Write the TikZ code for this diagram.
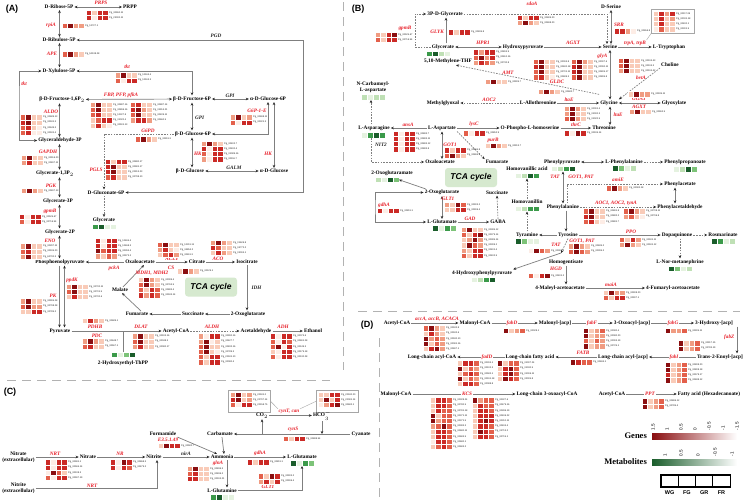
\documentclass[tikz,border=0pt]{standalone}
\usepackage{fontspec}
\setmainfont{Liberation Serif}
\setsansfont{Liberation Sans}
\usetikzlibrary{arrows.meta,calc}
\definecolor{r0}{HTML}{FDEDE6}
\definecolor{r1}{HTML}{F9CBB8}
\definecolor{r2}{HTML}{F09C82}
\definecolor{r3}{HTML}{E3604B}
\definecolor{r4}{HTML}{CB2A26}
\definecolor{r5}{HTML}{8A0E10}
\definecolor{g0}{HTML}{E5F2E0}
\definecolor{g1}{HTML}{BFE0B5}
\definecolor{g2}{HTML}{7DC378}
\definecolor{g3}{HTML}{3B9A4A}
\definecolor{g4}{HTML}{1A5D2B}
\definecolor{ln}{HTML}{7F7F7F}
\definecolor{gred}{HTML}{E8202A}
\definecolor{tcag}{HTML}{D6E9CF}
\newcounter{hmc}
\newcommand\HM[3]{%
  \foreach \hA/\hB/\hC/\hD/\hL [count=\ii from 0] in {#3}{%
    \stepcounter{hmc}%
    \filldraw[fill=\hA,draw=white,line width=0.3pt] ({#1},{#2+\ii*5.2}) rectangle ++(5.5,5.2);
    \filldraw[fill=\hB,draw=white,line width=0.3pt] ({#1+5.5},{#2+\ii*5.2}) rectangle ++(5.5,5.2);
    \filldraw[fill=\hC,draw=white,line width=0.3pt] ({#1+11},{#2+\ii*5.2}) rectangle ++(5.5,5.2);
    \filldraw[fill=\hD,draw=white,line width=0.3pt] ({#1+16.5},{#2+\ii*5.2}) rectangle ++(5.5,5.2);
    \node[gid] (hm\thehmc) at ({#1+22.8},{#2+\ii*5.2+2.6}) {\hL};
  }}
\newcommand\MH[4]{%
  \node[inner sep=0,outer sep=0,minimum width=24pt,minimum height=5.5pt,anchor=north west] (#1) at (#2,#3) {};
  \foreach \hc [count=\jj from 0] in {#4}{\filldraw[fill=\hc,draw=white,line width=0.3pt] ({#2+\jj*6},{#3}) rectangle ++(6,5.5);}
}
\begin{document}
\begin{tikzpicture}[x=1pt,y=-1pt,
  >={Stealth[length=3pt,width=2.6pt,color=black!85]},
  met/.style={font=\fontsize{5.3}{5.8}\selectfont\bfseries, inner sep=1pt},
  metd/.style={met},
  gene/.style={font=\fontsize{5.2}{5.6}\selectfont\bfseries\itshape, text=gred, inner sep=0.5pt},
  geneb/.style={gene, fill=white, inner sep=0.8pt},
  genek/.style={gene, text=black!85},
  gid/.style={font=\sffamily\fontsize{2.4}{2.6}\selectfont, inner sep=0.2pt, anchor=west, text=black!85},
  plab/.style={font=\sffamily\bfseries\fontsize{9}{10}\selectfont, inner sep=0},
  tca/.style={fill=tcag, rounded corners=3pt, minimum width=52pt, minimum height=19pt, font=\sffamily\bfseries\itshape\fontsize{8.5}{9}\selectfont, inner sep=0},
  ar/.style={draw=ln, line width=0.7pt, ->},
  bar/.style={draw=ln, line width=0.7pt, <->},
  dar/.style={ar, dash pattern=on 1.6pt off 1.2pt},
  plain/.style={draw=ln, line width=0.7pt},
  thinln/.style={draw=gray!70, line width=0.4pt},
  hbox/.style={draw=gray!70,line width=0.6pt,inner sep=0,anchor=north west},
  divider/.style={draw=gray!60, line width=0.8pt, dash pattern=on 9pt off 6pt},
  tick/.style={font=\sffamily\fontsize{4.6}{5}\selectfont, inner sep=0.5pt}
]
\useasboundingbox (0,0) rectangle (746,501);
\fill[white] (0,0) rectangle (746,501);

% ---------------- dividers
\draw[divider] (7,380) -- (330,380);
\draw[divider] (343,2) -- (343,370);
\draw[divider] (358,311) -- (740,311);
\draw[divider] (379,338) -- (379,501);

% ================= PANEL A
\node[plab] (labA) at (12,9) {(A)};
\coordinate (xL) at (59.5,0);
\coordinate (xL2) at (64.5,0);
\coordinate (pgdc) at (303,40);
\coordinate (tkc) at (19,100);
\node[met] (rib) at (59,7) {D-Ribose-5P};
\node[met] (prpp) at (130,7) {PRPP};
\node[met] (ribu) at (59,40) {D-Ribulose-5P};
\node[met] (xylu) at (59,71) {D-Xylulose-5P};
\node[met] (f16) at (62,99.5) {β-D-Fructose-1,6P$_2$};
\node[met] (gap) at (60,140.5) {Glyceraldehyde-3P};
\node[met] (g13) at (55,173.5) {Glycerate-1,3P$_2$};
\node[met] (g3p) at (58,201) {Glycerate-3P};
\node[met] (g2p) at (60,232) {Glycerate-2P};
\node[met] (pep) at (60,262) {Phosphoenolpyruvate};
\node[met] (pyr) at (60,331) {Pyruvate};
\node[met] (f6p) at (192,99) {β-D-Fructose-6P};
\node[met] (ag6p) at (268,99) {α-D-Glucose-6P};
\node[met] (bg6p) at (193,134) {β-D-Glucose-6P};
\node[met] (bglc) at (190,171) {β-D-Glucose};
\node[met] (aglc) at (274,171) {α-D-Glucose};
\node[met] (glcn) at (106,192.5) {D-Gluconate-6P};
\node[met] (glycA) at (104,220.5) {Glycerate};
\node[met] (oaa) at (140,262) {Oxaloacetate};
\node[met] (cit) at (197,262) {Citrate};
\node[met] (iso) at (247,262) {Isocitrate};
\node[met] (mal) at (120,290) {Malate};
\node[met] (fum) at (137,314) {Fumarate};
\node[met] (succ) at (193,314) {Succinate};
\node[met] (oxg) at (248,314) {2-Oxoglutarate};
\node[met] (acoa) at (176,331) {Acetyl-CoA};
\node[met] (acald) at (256,331) {Acetaldehyde};
\node[met] (eth) at (313,331) {Ethanol};
\node[met] (htpp) at (123,363) {2-Hydroxyethyl-ThPP};
\node[tca] (tcaA) at (211,287) {TCA cycle};
\MH{mglycA}{92}{224}{g3,g4,g0,g0}
\MH{mhtpp}{111}{352}{g3,g0,g2,g4}

\draw[bar] (rib) -- (prpp);
\draw[bar] (rib.south -| xL) -- (ribu.north -| xL);
\draw[bar] (ribu.south -| xL) -- (xylu.north -| xL);
\draw[bar] (glcn.east) -| (pgdc) -- (ribu.east);
\draw[bar] (xylu.east) -| (f6p.north);
\draw[bar] (xylu.west) -| (tkc) |- (gap.west);
\draw[bar] (f16) -- (f6p);
\draw[bar] (f16.south -| xL) -- (gap.north -| xL);
\draw[bar] (gap.south -| xL) -- (g13.north -| xL);
\draw[bar] (g13.south -| xL) -- (g3p.north -| xL);
\draw[bar] (g3p.south -| xL) -- (g2p.north -| xL);
\draw[bar] (g2p.south -| xL) -- (pep.north -| xL);
\draw[ar] (pep.south -| xL) -- (pyr.north -| xL);
\draw[bar] (pep.south -| xL2) -- (pyr.north -| xL2);
\draw[bar] (f6p) -- (ag6p);
\draw[bar] (f6p) -- (f6p |- bg6p.north);
\draw[bar] (ag6p.south) |- (bg6p.east);
\draw[bar] (aglc.north |- ag6p.south) -- (aglc.north);
\draw[bar] (bg6p.south -| f6p) -- (f6p |- bglc.north);
\draw[bar] (bglc) -- (aglc);
\draw[dar] (bg6p.west) -| ([xshift=-2pt]glcn.north);
\draw[dar] ([xshift=-2pt]glcn.south) -- (glycA.north);
\draw[ar] (oaa) -- (pep);
\draw[ar] (oaa) -- (cit);
\draw[ar] (cit) -- (iso);
\draw[ar] (iso.south) -- (iso.south |- oxg.north);
\draw[ar] (oxg) -- (succ);
\draw[ar] (succ) -- (fum);
\draw[ar] ([xshift=4pt]fum.north) -- ([xshift=2pt]mal.south);
\draw[ar] ([xshift=3pt]mal.north) -- ([xshift=4pt]oaa.south);
\draw[ar] (pyr) -- (acoa);
\draw[plain] (mhtpp.north) -- (mhtpp.north |- pyr.east);
\draw[dar] (acoa) -- (acald);
\draw[ar] (acald) -- (eth);

\node[gene] (gPRPS) at (101,3.3) {PRPS};
\HM{86}{10}{r4/r1/r4/r4/Pg\_30960.11, r4/r0/r4/r4/Pg\_23000.11}
\node[gene] (grpiA) at (51,25) {rpiA};
\HM{62}{23}{r3/r5/r2/r2/Pg\_10727.1}
\node[genek] (gPGD) at (216,36) {PGD};
\node[gene] (gAPE) at (52,54) {APE};
\HM{62}{51.5}{r3/r5/r2/r1/Pg\_50138.28}
\node[gene] (gtkt1) at (127,67) {tkt};
\HM{115}{72.5}{r2/r5/r1/r1/Pg\_10163.4, r3/r0/r4/r4/Pg\_10163.3}
\node[gene] (gtkt2) at (24,84) {tkt};
\node[gene] (gFBP) at (121,95) {FBP, PFP, pfkA};
\HM{90}{102}{r2/r5/r1/r1/Pg\_30887.16, r3/r5/r1/r1/Pg\_30896.16, r3/r4/r1/r1/Pg\_10327.8, r1/r3/r4/r4/Pg\_31020.4, r1/r4/r1/r0/Pg\_30501.13}
\HM{130}{102}{r3/r4/r1/r1/Pg\_30887.14, r4/r5/r2/r1/Pg\_31914.21, r3/r5/r1/r1/Pg\_30409.11, r2/r4/r4/r2/Pg\_30660.5}
\node[gene] (gALDO) at (51,111.5) {ALDO};
\HM{20}{114.5}{r3/r5/r1/r1/Pg\_30689.13, r4/r5/r1/r1/Pg\_30181.3, r3/r4/r1/r0/Pg\_30649.3, r3/r4/r0/r0/Pg\_30181.4}
\node[genek] (gGPI1) at (230,95.5) {GPI};
\node[genek,anchor=west] (gGPI2) at (194.5,118) {GPI};
\node[gene] (gG6P) at (257,111) {G6P-1-E};
\HM{230}{114.5}{r2/r5/r1/r2/Pg\_30698.11, r3/r0/r4/r4/Pg\_30321.3}
\node[gene] (gG6PD) at (148,130.3) {G6PD};
\HM{135}{136.5}{r3/r5/r2/r1/Pg\_30911.3}
\node[gene,anchor=west] (gHK1) at (193.5,154) {HK};
\HM{201}{141}{r2/r5/r2/r1/Pg\_30402.7, r4/r0/r4/r4/Pg\_30400.4, r3/r0/r4/r4/Pg\_31089.16, r2/r0/r4/r4/Pg\_30116.7}
\node[gene,anchor=east] (gHK2) at (272.5,154) {HK};
\node[genek] (gGALM) at (234,167.5) {GALM};
\node[gene] (gPGLS) at (96,170) {PGLS};
\HM{105}{159}{r4/r1/r4/r4/Pg\_30880.17, r4/r5/r1/r1/Pg\_30981.17, r4/r5/r1/r1/Pg\_20913.23, r3/r4/r1/r1/Pg\_30798.10}
\node[gene] (gGAPDH) at (48,152) {GAPDH};
\HM{21}{155}{r2/r5/r1/r1/Pg\_30516.20, r2/r4/r1/r1/Pg\_30497.11}
\node[gene] (gPGK) at (51,186) {PGK};
\HM{21}{188}{r2/r5/r2/r1/Pg\_30497.13}
\node[gene] (ggpmB) at (50,211.5) {gpmB};
\HM{19}{214}{r4/r0/r4/r4/Pg\_30525.67, r3/r0/r4/r4/Pg\_30716.54}
\node[gene] (gENO) at (50,241) {ENO};
\HM{20}{243.5}{r2/r5/r1/r1/Pg\_30297.11, r3/r4/r1/r1/Pg\_30195.20, r2/r5/r1/r1/Pg\_60700.3}
\node[gene] (gpckA) at (114,268.5) {pckA};
\HM{95}{238}{r4/r0/r4/r4/Pg\_10465.4, r4/r0/r4/r4/Pg\_10468.3, r5/r3/r4/r4/Pg\_30394.4, r2/r1/r3/r2/Pg\_30973.2}
\node[gene] (gACLY) at (172,258.7) {ACLY};
\node[gene] (gCS) at (171,267.3) {CS};
\HM{157}{242}{r3/r5/r1/r1/Pg\_10311.11, r2/r4/r1/r0/Pg\_34854.2, r1/r3/r4/r2/Pg\_30611.3}
\HM{177}{268.5}{r1/r5/r2/r1/Pg\_30129.1}
\node[gene] (gACO) at (218,258.7) {ACO};
\HM{210}{240}{r2/r5/r2/r1/Pg\_01626.8, r4/r3/r1/r1/Pg\_04772.2, r1/r4/r2/r1/Pg\_03004.1}
\node[genek,anchor=west] (gIDH) at (251,288) {IDH};
\node[gene] (gMDH) at (152,273) {MDH1, MDH2};
\HM{138}{277}{r1/r5/r2/r1/Pg\_30099.4, r3/r5/r2/r1/Pg\_30763.5, r3/r1/r4/r3/Pg\_30883.4, r4/r2/r4/r3/Pg\_30183.14}
\node[gene] (gPK) at (53,296) {PK};
\HM{20}{298.5}{r2/r5/r1/r1/Pg\_30995.28, r3/r5/r2/r2/Pg\_30798.28, r1/r1/r4/r4/Pg\_30785.2}
\node[gene] (gppdK) at (72,280) {ppdK};
\HM{66}{284}{r2/r5/r1/r1/Pg\_30700.11, r3/r5/r1/r1/Pg\_30701.5, r1/r4/r1/r1/Pg\_30700.6}
\node[gene] (gPDHB) at (95,326.5) {PDHB};
\node[gene] (gPDC) at (97,335.8) {PDC};
\node[gene] (gDLAT) at (141,326.5) {DLAT};
\HM{82}{318}{r1/r4/r2/r1/Pg\_30689.1}
\HM{82}{338.5}{r2/r5/r2/r1/Pg\_30648.7, r3/r4/r1/r1/Pg\_30567.1}
\HM{132}{333.5}{r2/r5/r1/r1/Pg\_30193.16, r3/r5/r1/r1/Pg\_30048.3, r2/r4/r1/r1/Pg\_30080.17}
\node[gene] (gALDH) at (212,326.5) {ALDH};
\HM{198}{333.5}{r2/r0/r4/r4/Pg\_30990.16, r2/r5/r0/r1/Pg\_30427.7, r3/r5/r1/r1/Pg\_30832.16, r3/r5/r1/r0/Pg\_30789.3, r3/r1/r4/r4/Pg\_20181.10, r3/r1/r4/r4/Pg\_30080.4}
\node[gene] (gADH) at (283,326.5) {ADH};
\HM{270}{333.5}{r4/r0/r4/r4/Pg\_30074.6, r3/r0/r4/r3/Pg\_30691.28, r3/r5/r0/r4/Pg\_30149.3, r1/r0/r4/r4/Pg\_30179.18, r3/r0/r4/r4/Pg\_30130.28}

% ================= PANEL C
\node[plab] (labC) at (10,392) {(C)};
\node[hbox,minimum width=42pt,minimum height=22pt] (bxco2) at (228,390) {};
\HM{230}{392}{r2/r5/r1/r2/Pg\_20181.0, r4/r5/r1/r2/Pg\_20797.14, r3/r0/r4/r4/Pg\_20158.75}
\node[hbox,minimum width=42pt,minimum height=22pt] (bxhco3) at (316,390) {};
\HM{318}{392}{r1/r1/r4/r4/Pg\_20180.20, r1/r5/r1/r4/Pg\_20081.14, r0/r2/r4/r5/Pg\_30682.1}
\node[met] (co2) at (262,415.5) {CO$_2$};
\node[met] (hco3) at (322,415.5) {HCO$_3^-$};
\node[met] (carb) at (220,434) {Carbamate};
\node[met] (cyan) at (361,434) {Cyanate};
\node[met] (form) at (163,434) {Formamide};
\node[met] (amm) at (222,457) {Ammonia};
\node[met,align=center] (nex) at (18.5,457) {Nitrate\\(extracellular)};
\node[met] (nit) at (88,457) {Nitrate};
\node[met] (nitr) at (154,457) {Nitrite};
\node[met,align=center] (nitex) at (18.5,488) {Nitrite\\(extracellular)};
\node[met] (gluC) at (302,457) {L-Glutamate};
\node[met] (gln) at (222,490.5) {L-Glutamine};
\MH{mgluC}{290}{460.5}{g4,g0,g3,g2}
\MH{mgln}{210}{494.5}{g3,g4,g0,g0}
\draw[ar] (co2) -- (hco3);
\draw[ar] (cyan) -- (carb);
\draw[ar] (co2.south |- carb.east) -- (co2.south);
\draw[ar] (hco3.south) -- (hco3.south |- carb.east);
\draw[ar] (form.south east) -- ([xshift=-5pt]amm.north);
\draw[ar] ([xshift=2pt]carb.south) -- ([xshift=2pt]amm.north);
\draw[ar] (nex) -- (nit);
\draw[ar] (nit) -- (nitr);
\draw[ar] (nitr) -- (amm);
\draw[ar] (nitex.east) -| ([xshift=3pt]nitr.south);
\draw[ar] (amm) -- (gluC);
\draw[ar] ([xshift=5pt]amm.south) -- ([xshift=5pt]amm.south |- gln.north);
\draw[ar] (gln.east) -| (mgluC.south);
\node[gene] (gcyn) at (289,411.8) {cynT, can};
\draw[thinln] (bxco2.east) -- (gcyn.north west);
\draw[thinln] (bxhco3.west) -- (gcyn.north east);
\node[gene] (gcynS) at (293,429.5) {cynS};
\HM{283}{436}{r3/r1/r4/r4/Pg\_30888.54}
\node[gene] (gE35) at (168,440) {E3.5.1.49};
\HM{158}{443}{r1/r5/r4/r4/Pg\_30582.7}
\node[gene] (gNRT1) at (55,453.5) {NRT};
\HM{45}{459.5}{r4/r0/r4/r4/Pg\_30981.1, r4/r0/r4/r4/Pg\_30565.14, r0/r5/r3/r1/Pg\_30108.3, r3/r0/r4/r4/Pg\_30597.19}
\node[gene] (gNR) at (120,453.5) {NR};
\HM{110}{459.5}{r4/r0/r5/r4/Pg\_30868.3, r4/r0/r4/r3/Pg\_30479.2}
\node[genek] (gnirA) at (186,453.5) {nirA};
\node[gene] (gNRT2) at (92,485.3) {NRT};
\node[gene] (ggdhA) at (260,453.5) {gdhA};
\HM{247}{459.5}{r4/r1/r4/r4/Pg\_30811.1}
\node[gene] (gglnA) at (218,463) {glnA};
\HM{187}{466}{r2/r5/r1/r1/Pg\_30836.3, r3/r4/r1/r1/Pg\_30836.2, r4/r4/r1/r1/Pg\_30193.21}
\node[gene] (gGLT1) at (268,487) {GLT1};
\HM{258}{473.5}{r3/r1/r5/r4/Pg\_30903.2, r2/r4/r1/r4/Pg\_30906.4}

% ================= PANEL B
\node[plab] (labB) at (358,9) {(B)};
\node[met] (pg3) at (445,14) {3P-D-Glycerate};
\node[met] (dser) at (611,7) {D-Serine};
\node[met] (ser) at (610,47) {Serine};
\node[met] (trp) at (669,47) {L-Tryptophan};
\node[met] (glycB) at (443,47) {Glycerate};
\node[met] (hpyr) at (523,47) {Hydroxypyruvate};
\node[met] (mthf) at (448,61.5) {5,10-Methylene-THF};
\node[met] (chol) at (670,65) {Choline};
\node[met,align=center] (ncarb) at (373,87) {N-Carbamoyl-\\L-aspartate};
\node[met] (mgo) at (443,103) {Methylglyoxal};
\node[met] (allo) at (538,103) {L-Allothreonine};
\node[met] (glyB) at (609,103) {Glycine};
\node[met] (glyox) at (674,103) {Glyoxylate};
\node[met] (asn) at (374,128) {L-Asparagine};
\node[met] (asp) at (442,128) {L-Aspartate};
\node[met] (oph) at (530,128) {O-Phospho-L-homoserine};
\node[met] (thr) at (604,128) {Threonine};
\node[met] (oaaB) at (440,162) {Oxaloacetate};
\node[met] (fumB) at (497,162) {Fumarate};
\node[met] (phpyr) at (562,162) {Phenylpyruvate};
\node[met] (lphe) at (624,162) {L-Phenylalanine};
\node[met] (phprop) at (685,162) {Phenylpropanoate};
\node[met] (ogam) at (392,173) {2-Oxoglutaramate};
\node[met] (hva) at (527,169) {Homovanillic acid};
\node[met] (phacet) at (680,184) {Phenylacetate};
\node[met] (oxgB) at (442,192.5) {2-Oxoglutarate};
\node[met] (succB) at (497,192.5) {Succinate};
\node[met] (homv) at (527,202) {Homovanillin};
\node[met] (phe) at (563,207) {Phenylalanine};
\node[met] (phald) at (680,207) {Phenylacetaldehyde};
\node[met] (gluB) at (442,222) {L-Glutamate};
\node[met] (gaba) at (498,222) {GABA};
\node[met] (tyra) at (527,235) {Tyramine};
\node[met] (tyr) at (568,235) {Tyrosine};
\node[met] (dopa) at (677,235) {Dopaquinone};
\node[met] (rosm) at (723,235) {Rosmarinate};
\node[met] (homg) at (566,262) {Homogentisate};
\node[met] (lnor) at (680,262) {L-Nor-metanephrine};
\node[met] (hpp4) at (482,273) {4-Hydroxyphenylpyruvate};
\node[met] (mal4) at (560,288) {4-Maleyl-acetoacetate};
\node[met] (fum4) at (673,288) {4-Fumaryl-acetoacetate};
\node[tca] (tcaB) at (471,177.5) {TCA cycle};
\MH{mglycB}{426}{51}{g3,g4,g1,g0}
\MH{mncarb}{361}{94.5}{g1,g0,g1,g1}
\MH{masn}{361}{132.5}{g0,g3,g4,g3}
\MH{mogam}{375}{177}{g1,g0,g4,g2}
\MH{mgluB}{432}{225.5}{g4,g0,g3,g2}
\MH{mhva}{515}{173}{g0,g1,g4,g3}
\MH{mhomv}{515}{206}{g0,g1,g3,g3}
\MH{mtyra}{515}{238.5}{g4,g2,g0,g0}
\MH{mhpp4}{471}{277}{g0,g1,g3,g4}
\MH{mphpyr}{551}{166}{g0,g1,g3,g4}
\MH{mlphe}{612}{165.5}{g4,g2,g0,g1}
\MH{mphprop}{673}{166.5}{g0,g1,g4,g2}
\MH{mrosm}{711}{238.5}{g4,g3,g0,g1}
\MH{mlnor}{668}{266}{g4,g2,g0,g1}

\coordinate (bk1) at (415,14);
\coordinate (bk2) at (375,207);
\coordinate (bk3) at (371,162);
\coordinate (xP) at (563,0);
\coordinate (xT) at (566,0);
\coordinate (j1) at (561,253);
\draw[dar] (glycB.west) -| (bk1) -- (pg3.west);
\draw[dar] (pg3.east) -| ([xshift=-3pt]ser.north);
\draw[bar] (dser.south) -- (dser.south |- ser.north);
\draw[ar] ([xshift=3pt]glycB.north) -- ([xshift=1pt]pg3.south);
\draw[bar] (glycB) -- (hpyr);
\draw[ar] (hpyr) -- (ser);
\draw[ar] (ser) -- (trp);
\draw[bar] (ser.south) -- (ser.south |- glyB.north);
\draw[dar] (chol.south west) -- (glyB.north east);
\draw[dar] ([yshift=5pt]glyB.north west) -- ([xshift=8pt]mthf.south);
\draw[bar] (glyB) -- (glyox);
\draw[ar] (allo) -- (glyB);
\draw[dar] (allo) -- (mgo);
\draw[bar] (glyB.south -| ser.south) -- (thr.north -| ser.south);
\draw[ar] (oph) -- (thr);
\draw[ar] (asp) -- (oph);
\draw[dar] (asp.south east) -- (fumB.north west);
\draw[ar] (asp) -- (asn);
\draw[bar] (asp.south) -- (asp.south |- oaaB.north);
\draw[dar] (asn.north -| bk3) -- (mncarb.south -| bk3);
\draw[dar] (masn.south -| bk3) -- (bk3) -- (oaaB.west);
\draw[ar] ([xshift=2pt]oxgB.north west) -- (mogam.east);
\draw[bar] (oxgB.west) -| (bk2) |- (gluB.west);
\draw[bar] (oxgB.south) -- (gluB.north);
\draw[ar] (gluB) -- (gaba);
\draw[dar] (gaba.north) -- (succB.south);
\draw[dar] (homv.north) -- (mhva.south);
\draw[dar] (tyra.north) -- (mhomv.south);
\draw[ar] (tyr) -- (tyra);
\draw[dar] (tyr.south) -- (j1);
\draw[ar] (j1) -- (hpp4.north east);
\draw[ar] (homg.south) -- (homg.south |- mal4.north);
\draw[ar] (mal4) -- (fum4);
\draw[bar] (phpyr) -- (lphe);
\draw[dar] (lphe) -- (phprop);
\draw[bar] (mphpyr.south -| xP) -- (phe.north -| xP);
\draw[dar] ([xshift=4pt]phe.north) |- (phacet.west);
\draw[bar] ([xshift=-5pt]phacet.south) -- ([xshift=-5pt]phald.north);
\draw[dar] (phe) -- (phald);
\draw[ar] (phe.south -| xT) -- (tyr.north -| xT);
\draw[ar] (tyr) -- (dopa);
\draw[dar] (dopa) -- (rosm);
\draw[dar] (lnor.north |- dopa.south) -- (lnor.north);

\node[gene] (gsdaA) at (532,4) {sdaA};
\HM{517}{15}{r4/r1/r4/r4/Pg\_30699.20, r2/r5/r2/r1/Pg\_30698.20}
\node[gene,anchor=east] (gGLYK) at (444.5,32) {GLYK};
\HM{448}{29.5}{r4/r1/r4/r4/Pg\_30495.8}
\node[gene] (ggpmB2) at (405,28) {gpmB};
\HM{375}{32}{r2/r1/r4/r5/Pg\_30525.67, r3/r1/r4/r4/Pg\_30716.54}
\node[gene] (gHPR1) at (483,43) {HPR1};
\HM{473}{49.5}{r4/r2/r4/r4/Pg\_30804.9, r3/r5/r2/r4/Pg\_30610.16, r2/r4/r3/r2/Pg\_30730.8}
\node[gene] (gAGXT1) at (573,43) {AGXT};
\node[gene] (gSRR) at (619,24.5) {SRR};
\HM{614}{28.5}{r4/r4/r2/r0/Pg\_30656.8}
\node[hbox,minimum width=43pt,minimum height=24pt] (bxtrp) at (651,9) {};
\HM{653}{11}{r1/r4/r2/r4/Pg\_30117.26, r1/r4/r1/r2/Pg\_30031.18, r1/r4/r1/r1/Pg\_30400.1, r0/r3/r1/r1/Pg\_30301.5}
\node[gene] (gtrp) at (635,43) {trpA, trpB};
\draw[thinln] (bxtrp.south west) -- (gtrp.north east);
\node[gene,anchor=east] (gglyA) at (608,56) {glyA};
\HM{533}{59}{r3/r5/r1/r1/Pg\_30004.8, r4/r5/r1/r1/Pg\_30600.18, r3/r5/r1/r1/Pg\_30701.11, r3/r4/r1/r0/Pg\_30699.3}
\HM{571}{59}{r3/r5/r2/r1/Pg\_30007.6, r4/r5/r1/r1/Pg\_30090.11, r4/r5/r1/r1/Pg\_30805.17, r3/r5/r1/r1/Pg\_30895.8}
\HM{618}{58}{r3/r5/r1/r1/Pg\_30104.43, r3/r5/r1/r1/Pg\_30104.3, r2/r5/r1/r1/Pg\_30104.42}
\node[gene] (gbetA) at (641,78) {betA};
\node[gene] (gGLDC) at (557,81.5) {GLDC};
\HM{538}{89}{r2/r5/r2/r1/Pg\_30682.7}
\node[gene] (gAMT) at (508,73) {AMT};
\HM{485}{79}{r2/r5/r1/r1/Pg\_30905.7}
\node[gene] (gGGAT) at (639,99) {GGAT};
\HM{628}{91.5}{r1/r5/r2/r2/Pg\_30935.11}
\node[gene] (gAGXT2) at (639,106.8) {AGXT};
\HM{629}{109}{r2/r5/r1/r1/Pg\_30962.5}
\node[gene] (gltaE1) at (569,99.5) {ltaE};
\HM{564}{106}{r2/r5/r2/r1/Pg\_30091.4, r2/r5/r1/r1/Pg\_31000.3, r3/r5/r2/r1/Pg\_31020.5}
\node[gene,anchor=west] (gltaE2) at (613,115) {ltaE};
\node[gene] (gAOC2) at (489,99.5) {AOC2};
\node[gene] (gthrC) at (576,125) {thrC};
\HM{564}{130.5}{r4/r0/r5/r4/Pg\_30195.14}
\node[gene] (glysC) at (474,124.5) {lysC};
\HM{463}{130.5}{r3/r0/r4/r4/Pg\_30852.9}
\node[gene] (gpurB) at (493,140) {purB};
\HM{485}{143}{r1/r5/r2/r1/Pg\_30913.7}
\node[gene] (gansA) at (408,124.5) {ansA};
\HM{393}{131}{r4/r0/r4/r4/Pg\_30883.7, r4/r0/r4/r4/Pg\_30883.11, r4/r0/r4/r4/Pg\_30883.12, r4/r0/r4/r4/Pg\_30883.8}
\node[genek] (gNIT2) at (381,145) {NIT2};
\node[gene] (gGOT1a) at (450,144.5) {GOT1};
\HM{444}{147.5}{r4/r1/r4/r4/Pg\_30865.8, r3/r5/r2/r1/Pg\_30865.9}
\node[gene] (gGLT1B) at (448,198.5) {GLT1};
\HM{444}{202}{r2/r1/r5/r3/Pg\_30903.2, r1/r1/r4/r4/Pg\_30906.4}
\node[gene] (ggdhAB) at (384,205) {gdhA};
\HM{377}{208}{r4/r0/r4/r4/Pg\_30811.1}
\node[gene] (gGAD) at (470,218.5) {GAD};
\HM{461}{227}{r2/r5/r1/r1/Pg\_30385.12, r3/r1/r4/r5/Pg\_30379.14, r1/r2/r5/r2/Pg\_30385.14, r1/r5/r3/r2/Pg\_30399.2, r2/r1/r4/r4/Pg\_30401.4, r3/r1/r4/r4/Pg\_30402.5}
\node[gene] (gTAT1) at (555,177) {TAT};
\node[gene] (gGOTPAT1) at (581,177) {GOT1, PAT};
\node[gene] (gamiE) at (618,180) {amiE};
\HM{606}{185.5}{r3/r5/r2/r1/Pg\_30082.18}
\node[gene] (gAOC) at (616,203) {AOC1, AOC2, tynA};
\HM{583}{208.5}{r3/r5/r1/r1/Pg\_30881.8, r4/r5/r1/r1/Pg\_30882.2, r3/r4/r1/r0/Pg\_30881.7}
\HM{623}{208.5}{r3/r5/r2/r1/Pg\_30708.11, r2/r3/r1/r0/Pg\_30706.8}
\node[gene] (gPPO) at (631,231.5) {PPO};
\HM{619}{237}{r3/r1/r4/r2/Pg\_30181.11, r2/r5/r2/r1/Pg\_30181.12}
\node[gene] (gGOTPAT2) at (582,240.8) {GOT1, PAT};
\HM{568}{243.5}{r2/r5/r2/r1/Pg\_30485.2, r3/r5/r3/r2/Pg\_30395.2}
\node[gene] (gTAT2) at (556,244.5) {TAT};
\HM{528}{248}{r0/r5/r3/r2/Pg\_30386.3}
\node[gene] (gHGD) at (556,268.5) {HGD};
\HM{528}{273}{r3/r0/r4/r5/Pg\_30401.2}
\node[gene] (gmaiA) at (611,284.5) {maiA};
\HM{603}{290}{r1/r5/r2/r2/Pg\_30908.20, r3/r1/r4/r4/Pg\_30907.1}

% ================= PANEL D
\node[plab] (labD) at (367,325) {(D)};
\coordinate (fz) at (737,0);
\node[metd] (acoaD) at (397,323) {Acetyl-CoA};
\node[metd] (mcoaD) at (475,323) {Malonyl-CoA};
\node[metd] (macp) at (555,323) {Malonyl-[acp]};
\node[metd] (oacp) at (632,323) {3-Oxoacyl-[acp]};
\node[metd] (hacp) at (714,323) {3-Hydroxy-[acp]};
\node[metd] (tacp) at (720,357) {Trans-2-Enoyl-[acp]};
\node[metd] (lcacp) at (623,357) {Long-chain acyl-[acp]};
\node[metd] (lcfa) at (530,357) {Long-chain fatty acid};
\node[metd] (lcacoa) at (432,357) {Long-chain acyl-CoA};
\node[metd] (mcoa2) at (396,394) {Malonyl-CoA};
\node[metd] (lc3) at (547,394) {Long-chain 3-oxoacyl-CoA};
\node[metd] (acoa2) at (612,394) {Acetyl-CoA};
\node[metd] (fa) at (709,394) {Fatty acid (Hexadecanoate)};
\draw[ar] (acoaD) -- (mcoaD);
\draw[ar] (mcoaD) -- (macp);
\draw[ar] (macp) -- (oacp);
\draw[ar] (oacp) -- (hacp);
\draw[ar] (hacp.south -| fz) -- (tacp.north -| fz);
\draw[ar] (tacp) -- (lcacp);
\draw[ar] (lcacp) -- (lcfa);
\draw[ar] (lcfa) -- (lcacoa);
\draw[ar] (mcoa2) -- (lc3);
\draw[ar] (acoa2) -- (fa);
\node[gene] (gacc) at (437,319.5) {accA, accB, ACACA};
\HM{423}{325.5}{r3/r5/r2/r1/Pg\_30182.8, r1/r4/r2/r1/Pg\_30182.6, r5/r2/r3/r2/Pg\_30180.10, r5/r1/r3/r2/Pg\_30081.16, r1/r4/r5/r2/Pg\_30697.1}
\node[geneb] (gfabD1) at (512,323) {fabD};
\HM{503}{328}{r5/r1/r2/r3/Pg\_30028.1}
\node[geneb] (gfabF) at (592,323) {fabF};
\HM{583}{328}{r5/r1/r2/r3/Pg\_30080.4, r5/r1/r2/r2/Pg\_30080.20, r3/r1/r3/r2/Pg\_30093.19, r5/r1/r2/r2/Pg\_30725.1}
\node[geneb] (gfabG) at (673,323) {fabG};
\HM{665}{328}{r5/r2/r2/r3/Pg\_30905.11}
\node[gene,anchor=east] (gfabZ) at (735,337.5) {fabZ};
\HM{678}{340.5}{r5/r1/r2/r3/Pg\_30917.15, r5/r1/r2/r3/Pg\_30783.19}
\node[geneb] (gfabI) at (674,357) {fabI};
\HM{665}{362}{r5/r1/r2/r3/Pg\_30808.20, r5/r1/r2/r3/Pg\_30808.18, r4/r1/r2/r3/Pg\_30578.17, r5/r1/r2/r3/Pg\_30488.12}
\node[gene] (gFATB) at (583,353) {FATB};
\HM{570}{359.5}{r5/r4/r3/r3/Pg\_30484.1}
\node[geneb] (gfadD) at (487,357) {fadD};
\HM{457}{360.5}{r1/r4/r4/r3/Pg\_30304.1, r5/r1/r3/r2/Pg\_30102.3, r1/r3/r4/r3/Pg\_30582.1, r5/r1/r3/r2/Pg\_30191.18, r1/r4/r4/r3/Pg\_30088.8}
\HM{497}{360.5}{r5/r1/r3/r3/Pg\_31007.24, r1/r4/r5/r3/Pg\_31030.5, r1/r4/r5/r3/Pg\_31006.11, r1/r5/r4/r3/Pg\_32005.8}
\node[geneb] (gKCS) at (467,394) {KCS};
\HM{430}{397.5}{r1/r4/r4/r3/Pg\_30328.24, r1/r4/r4/r3/Pg\_30780.5, r1/r4/r3/r3/Pg\_30781.18, r5/r1/r3/r3/Pg\_30371.11, r5/r2/r3/r3/Pg\_30371.5, r2/r3/r5/r3/Pg\_30383.3, r1/r4/r4/r3/Pg\_30680.11, r1/r4/r4/r3/Pg\_30683.5, r0/r4/r4/r3/Pg\_30680.1, r1/r3/r4/r3/Pg\_30683.2}
\HM{472}{397.5}{r5/r2/r3/r3/Pg\_30327.6, r1/r4/r3/r3/Pg\_30479.16, r1/r4/r4/r3/Pg\_30286.19, r1/r4/r4/r4/Pg\_30406.22, r1/r4/r5/r4/Pg\_30310.11, r1/r4/r4/r3/Pg\_30404.4, r1/r5/r4/r3/Pg\_31713.2, r1/r4/r4/r3/Pg\_30715.1}
\node[geneb] (gPPT) at (650,394) {PPT};
\HM{642}{398.5}{r5/r1/r2/r3/Pg\_30886.12, r5/r1/r2/r3/Pg\_30785.4}

% ================= LEGEND
\node[font=\bfseries\fontsize{8.5}{9}\selectfont, anchor=east, inner sep=0] (lgG) at (647,436) {Genes};
\shade[left color=r5, middle color=r3, right color=white] (652,433) rectangle (737,439);
\foreach \t/\xx [count=\k] in {1.5/653,1/667,0.5/681,0/695,-0.5/709,-1/723,-1.5/737}
  \node[tick,rotate=90,anchor=west] (tkg\k) at (\xx,431) {\t};
\node[font=\bfseries\fontsize{8.5}{9}\selectfont, anchor=east, inner sep=0] (lgM) at (647,462) {Metabolites};
\shade[left color=g4, middle color=g2, right color=white] (652,459) rectangle (737,465);
\foreach \t/\xx [count=\k] in {1/665,0.5/681,0/698,-0.5/715,-1/732}
  \node[tick,rotate=90,anchor=west] (tkm\k) at (\xx,457) {\t};
\foreach \k/\lab in {0/WG,1/FG,2/GR,3/FR}{
  \draw[line width=1.1pt] ({661+\k*17.3},475) rectangle ++(17.3,12);
  \node[font=\sffamily\bfseries\fontsize{5.5}{6}\selectfont, inner sep=0] (lb\lab) at ({669.6+\k*17.3},493) {\lab};
}
\end{tikzpicture}
\end{document}
